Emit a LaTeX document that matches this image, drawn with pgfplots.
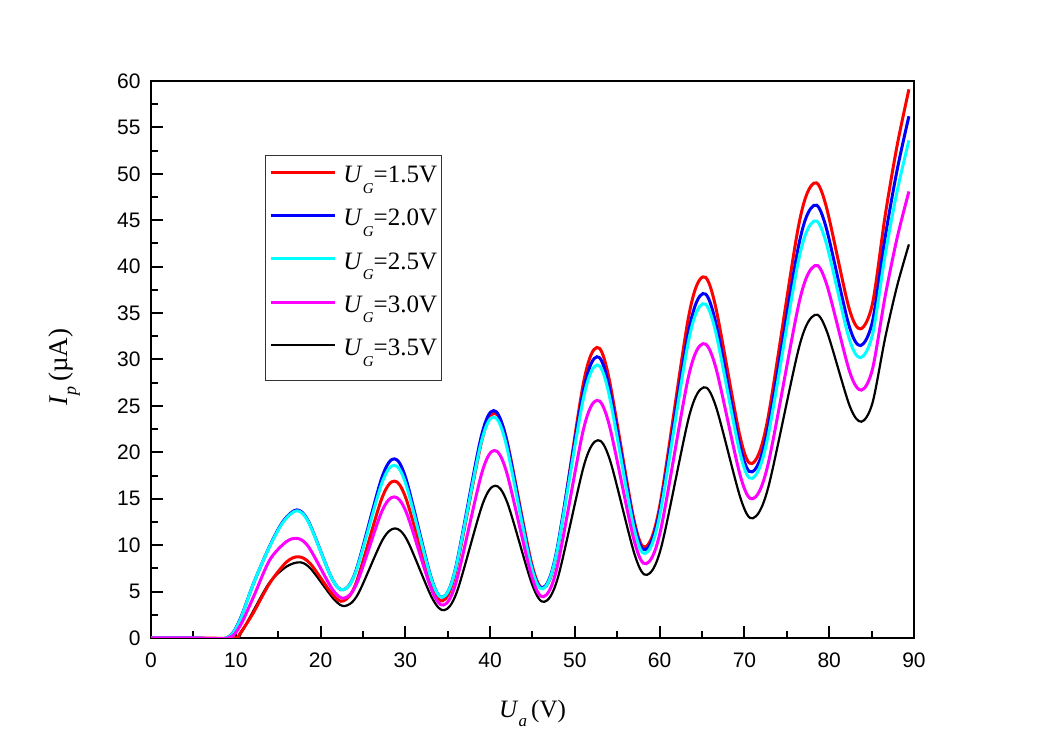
\documentclass[border=0pt]{standalone}
\usepackage{pgfplots}
\pgfplotsset{compat=1.18}
\usepackage{fontspec}
\setmainfont{Liberation Serif}
\setsansfont{Liberation Sans}
\definecolor{cR}{RGB}{255,0,0}
\definecolor{cB}{RGB}{0,0,255}
\definecolor{cC}{RGB}{0,255,255}
\definecolor{cM}{RGB}{255,0,255}
\newcommand{\UG}{\textit{U}\raisebox{-10.5pt}{\fontsize{15}{15}\selectfont\textit{G}}}
\begin{document}
\begin{tikzpicture}
\useasboundingbox (0,0) rectangle (1049pt,743pt);
\begin{axis}[
  at={(151pt,105pt)}, anchor=south west,
  width=763pt, height=557pt, scale only axis,
  xmin=0, xmax=90, ymin=0, ymax=60,
  xtick={0,10,...,90}, ytick={0,5,...,60},
  minor x tick num=1, minor y tick num=1,
  tick pos=left, tick align=inside,
  major tick length=12pt, minor tick length=7pt,
  axis line style={line width=2pt},
  tick style={line width=2pt, black},
  /pgf/number format/assume math mode=true,
  tick label style={font=\sffamily\fontsize{21}{21}\selectfont},
  yticklabel style={xshift=-7pt},
  xticklabel style={yshift=-11pt},
  xlabel={\textit{U}\raisebox{-9pt}{\fontsize{17}{17}\selectfont\textit{a}}\,(V)},
  ylabel={\textit{I}\raisebox{-9pt}{\fontsize{18}{18}\selectfont\textit{p}}\,(µA)},
  xlabel style={font=\fontsize{25}{25}\selectfont, at={(axis description cs:0.5,-0.1436)}, anchor=base},
  ylabel style={font=\fontsize{27}{27}\selectfont, at={(axis description cs:-0.110,0.4865)}, anchor=base},
  legend style={at={(axis description cs:0.1494,0.8671)}, anchor=north west,
    draw=black!80, line width=1pt, font=\fontsize{25}{25}\selectfont,
    inner xsep=4pt, inner ysep=10pt, row sep=11.8pt,
    nodes={inner sep=0pt, text height=17pt, text depth=14.5pt},
    /tikz/every odd column/.append style={column sep=7pt}},
  legend cell align=left,
  legend image code/.code={\draw[#1] (0pt,9pt) -- (64pt,9pt);},
]
\addlegendimage{cR, line width=3pt}\addlegendentry{\UG=1.5V}
\addlegendimage{cB, line width=3pt}\addlegendentry{\UG=2.0V}
\addlegendimage{cC, line width=3pt}\addlegendentry{\UG=2.5V}
\addlegendimage{cM, line width=3pt}\addlegendentry{\UG=3.0V}
\addlegendimage{black, line width=2pt}\addlegendentry{\UG=3.5V}

% U_G = 3.5 V
\addplot[black, line width=2.2pt, smooth, forget plot] coordinates {
(0,0) (5,0) (9.9,0) (10.6,0.5) (12,2.8) (14,6.0) (16,7.7) (17.6,8.15)
(18.9,7.40) (21.6,4.15) (22.9,3.45) (24.4,4.70) (27.3,10.55) (28.8,11.8)
(30.25,10.48) (33.15,4.32) (34.6,3.0) (36.1,5.01) (39.1,14.39) (40.6,16.4)
(42.05,14.53) (44.95,5.78) (46.4,3.9) (48.0,6.51) (51.1,18.69) (52.7,21.3)
(54.15,19.13) (57.05,8.98) (58.5,6.8) (60.2,9.83) (63.5,23.97) (65.2,27.0)
(66.65,24.89) (69.55,15.02) (71.0,12.9) (72.8,16.19) (76.5,31.52) (78.3,34.8)
(79.7,33.08) (82.4,25.03) (83.8,23.3) (85.1,25.31) (86.6,32.33) (88.0,37.89) (89.4,42.4)};
% U_G = 1.5 V
\addplot[cR, line width=3pt, smooth, forget plot] coordinates {
(0,0) (5,0) (9.8,0) (10.5,0.5) (12,2.6) (14,5.9) (16,8.2) (17.4,8.75)
(18.8,8.0) (21.4,4.7) (22.7,4.0) (24.2,5.94) (27.2,14.97) (28.7,16.9)
(30.1,14.97) (33.0,5.94) (34.4,4.0) (35.9,7.03) (39.0,21.17) (40.5,24.2)
(41.95,21.38) (44.85,8.22) (46.3,5.4) (47.9,9.29) (51.0,27.42) (52.6,31.3)
(54.0,28.08) (56.9,13.03) (58.3,9.8) (60.0,14.17) (63.4,34.54) (65.1,38.9)
(66.55,35.89) (69.45,21.82) (70.9,18.8) (72.7,23.33) (76.4,44.47) (78.2,49.0)
(79.6,46.65) (82.3,35.66) (83.7,33.3) (85.1,36.0) (86.6,45.5) (88.0,53.0) (89.4,59.1)};
% U_G = 2.0 V
\addplot[cB, line width=3pt, smooth, forget plot] coordinates {
(0,0) (5,0) (8.9,0) (10.4,1.8) (12.1,5.9) (14.0,9.9) (15.6,12.6) (17.2,13.8)
(18.6,12.51) (21.3,6.49) (22.7,5.2) (24.2,7.32) (27.2,17.19) (28.7,19.3)
(30.1,17.07) (33.0,6.64) (34.4,4.4) (35.9,7.42) (38.9,21.49) (40.4,24.5)
(41.85,21.64) (44.75,8.27) (46.2,5.4) (47.8,9.14) (51.0,26.57) (52.6,30.3)
(54.0,27.18) (56.9,12.62) (58.3,9.5) (60.0,13.64) (63.4,32.96) (65.1,37.1)
(66.55,34.22) (69.45,20.78) (70.9,17.9) (72.7,22.21) (76.4,42.30) (78.2,46.6)
(79.6,44.34) (82.3,33.77) (83.7,31.5) (85.1,34.09) (86.6,43.18) (88.0,50.37) (89.4,56.2)};
% U_G = 2.5 V
\addplot[cC, line width=3pt, smooth, forget plot] coordinates {
(0,0) (5,0) (8.9,0) (10.4,1.7) (12.1,5.9) (14.0,9.85) (15.6,12.5) (17.2,13.7)
(18.6,12.43) (21.3,6.48) (22.7,5.2) (24.2,7.21) (27.2,16.59) (28.7,18.6)
(30.1,16.47) (33.0,6.53) (34.4,4.4) (35.9,7.31) (38.9,20.89) (40.4,23.8)
(41.85,21.03) (44.75,8.08) (46.2,5.3) (47.8,8.92) (51.0,25.79) (52.6,29.4)
(54.0,26.36) (56.9,12.15) (58.3,9.1) (60.0,13.14) (63.4,31.97) (65.1,36.0)
(66.55,33.18) (69.45,20.02) (70.9,17.2) (72.7,21.36) (76.4,40.75) (78.2,44.9)
(79.6,42.70) (82.3,32.41) (83.7,30.2) (85.1,32.66) (86.6,41.27) (88.0,48.08) (89.4,53.6)};
% U_G = 3.0 V
\addplot[cM, line width=3pt, smooth, forget plot] coordinates {
(0,0) (5,0) (9.1,0) (10.5,1.3) (12.1,4.45) (14.0,8.4) (16.0,10.4) (17.4,10.7)
(18.7,9.66) (21.4,5.25) (22.8,4.3) (24.3,5.94) (27.2,13.57) (28.7,15.2)
(30.15,13.45) (33.05,5.30) (34.5,3.55) (36.0,6.05) (39.0,17.70) (40.5,20.2)
(41.95,17.84) (44.85,6.81) (46.3,4.45) (47.9,7.62) (51.0,22.43) (52.6,25.6)
(54.05,22.96) (56.95,10.64) (58.4,8.0) (60.1,11.56) (63.4,28.15) (65.1,31.7)
(66.6,29.20) (69.5,17.51) (71.0,15.0) (72.8,18.77) (76.5,36.34) (78.3,40.1)
(79.7,38.09) (82.4,28.71) (83.8,26.7) (85.1,28.95) (86.6,36.82) (88.0,43.05) (89.4,48.1)};
\end{axis}
\end{tikzpicture}
\end{document}
